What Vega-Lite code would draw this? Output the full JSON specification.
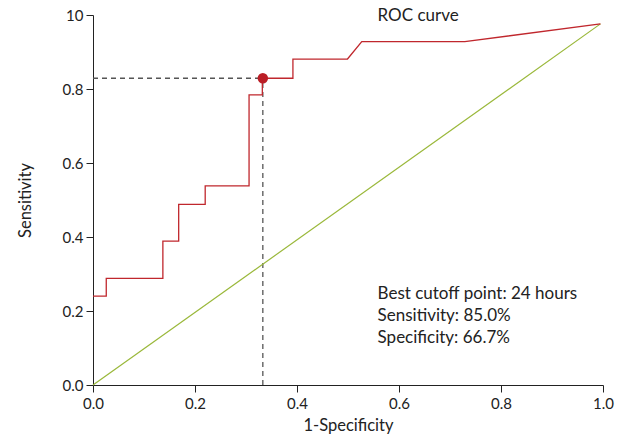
{
  "$schema": "https://vega.github.io/schema/vega-lite/v6.json",
  "width": 510,
  "height": 370,
  "autosize": {"type": "none"},
  "padding": {"left": 93, "top": 15, "right": 17, "bottom": 54},
  "background": "white",
  "config": {
    "view": {"stroke": null},
    "font": "Lato",
    "axis": {
      "grid": false,
      "domainColor": "#222",
      "tickColor": "#222",
      "tickSize": 7,
      "labelFont": "Lato",
      "labelFontSize": 15,
      "labelColor": "#222",
      "labelFlush": false,
      "labelOverlap": false,
      "titleFont": "Lato",
      "titleFontSize": 16.5,
      "titleFontWeight": "normal",
      "titleColor": "#222"
    }
  },
  "datasets": {
    "roc": [
      {"fpr": 0, "tpr": 0.240},
      {"fpr": 0.026, "tpr": 0.240},
      {"fpr": 0.026, "tpr": 0.288},
      {"fpr": 0.137, "tpr": 0.288},
      {"fpr": 0.137, "tpr": 0.389},
      {"fpr": 0.168, "tpr": 0.389},
      {"fpr": 0.168, "tpr": 0.488},
      {"fpr": 0.220, "tpr": 0.488},
      {"fpr": 0.220, "tpr": 0.538},
      {"fpr": 0.306, "tpr": 0.538},
      {"fpr": 0.306, "tpr": 0.784},
      {"fpr": 0.332, "tpr": 0.784},
      {"fpr": 0.332, "tpr": 0.829},
      {"fpr": 0.392, "tpr": 0.829},
      {"fpr": 0.392, "tpr": 0.881},
      {"fpr": 0.499, "tpr": 0.881},
      {"fpr": 0.527, "tpr": 0.928},
      {"fpr": 0.729, "tpr": 0.928},
      {"fpr": 0.995, "tpr": 0.976}
    ],
    "diag": [
      {"fpr": 0, "tpr": 0},
      {"fpr": 0.995, "tpr": 0.976}
    ],
    "guides": [
      {"seg": "h", "fpr": 0, "tpr": 0.829},
      {"seg": "h", "fpr": 0.333, "tpr": 0.829},
      {"seg": "v", "fpr": 0.333, "tpr": 0},
      {"seg": "v", "fpr": 0.333, "tpr": 0.829}
    ],
    "cutoff": [
      {"fpr": 0.333, "tpr": 0.829}
    ],
    "labels": [
      {"fpr": 0.558, "tpr": 0.997, "text": "ROC curve"},
      {"fpr": 0.558, "tpr": 0.246, "text": "Best cutoff point: 24 hours"},
      {"fpr": 0.558, "tpr": 0.186, "text": "Sensitivity: 85.0%"},
      {"fpr": 0.558, "tpr": 0.127, "text": "Specificity: 66.7%"}
    ]
  },
  "layer": [
    {
      "data": {"name": "guides"},
      "mark": {"type": "line", "color": "#555", "strokeDash": [5, 4], "strokeWidth": 1.3},
      "encoding": {
        "x": {"field": "fpr", "type": "quantitative"},
        "y": {"field": "tpr", "type": "quantitative"},
        "detail": {"field": "seg", "type": "nominal"}
      }
    },
    {
      "data": {"name": "diag"},
      "mark": {"type": "line", "color": "#9ab83a", "strokeWidth": 1.2},
      "encoding": {
        "x": {"field": "fpr", "type": "quantitative"},
        "y": {"field": "tpr", "type": "quantitative"}
      }
    },
    {
      "data": {"name": "roc"},
      "mark": {"type": "line", "color": "#c0272d", "strokeWidth": 1.3},
      "encoding": {
        "x": {
          "field": "fpr", "type": "quantitative",
          "scale": {"domain": [0, 1], "nice": false, "zero": false},
          "axis": {
            "title": "1-Specificity",
            "values": [0, 0.2, 0.4, 0.6, 0.8, 1],
            "labelExpr": "format(datum.value, '.1f')",
            "labelPadding": 4,
            "titlePadding": 6
          }
        },
        "y": {
          "field": "tpr", "type": "quantitative",
          "scale": {"domain": [0, 1], "nice": false, "zero": false},
          "axis": {
            "title": "Sensitivity",
            "values": [0, 0.2, 0.4, 0.6, 0.8, 1],
            "labelExpr": "datum.value == 1 ? '10' : format(datum.value, '.1f')",
            "labelPadding": 3,
            "titlePadding": 29
          }
        }
      }
    },
    {
      "data": {"name": "cutoff"},
      "mark": {"type": "point", "shape": "circle", "filled": true, "color": "#bb1e26", "opacity": 1, "size": 110},
      "encoding": {
        "x": {"field": "fpr", "type": "quantitative"},
        "y": {"field": "tpr", "type": "quantitative"}
      }
    },
    {
      "data": {"name": "labels"},
      "mark": {"type": "text", "align": "left", "baseline": "middle", "font": "Lato", "fontSize": 17, "color": "#222"},
      "encoding": {
        "x": {"field": "fpr", "type": "quantitative"},
        "y": {"field": "tpr", "type": "quantitative"},
        "text": {"field": "text"}
      }
    }
  ]
}
